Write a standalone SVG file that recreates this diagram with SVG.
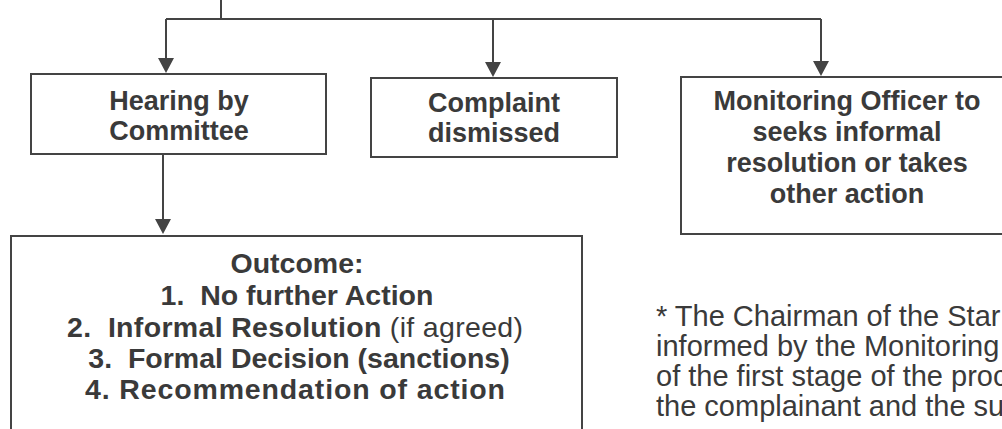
<svg xmlns="http://www.w3.org/2000/svg" width="1002" height="429" viewBox="0 0 1002 429">
<style>
.box{fill:#fff;stroke:#444;stroke-width:2}
.ln{fill:none;stroke:#444;stroke-width:2}
.ah{fill:#444}
.b{font-family:"Liberation Sans",Arial,sans-serif;font-weight:bold;font-size:27px;fill:#3a3a3a;text-anchor:middle}
.o{font-family:"Liberation Sans",Arial,sans-serif;font-weight:bold;font-size:28.5px;fill:#3a3a3a;text-anchor:middle}
.r{font-weight:normal}
.f{font-family:"Liberation Sans",Arial,sans-serif;font-size:29px;fill:#3a3a3a}
</style>
<rect width="1002" height="429" fill="#fff"/>
<g id="connectors">
<path class="ln" d="M221,0 V19 M166,19 H821"/>
<path class="ln" d="M166,19 V58"/>
<path class="ah" d="M158,58 H174 L166,73 Z"/>
<path class="ln" d="M493,19 V62"/>
<path class="ah" d="M485,62 H501 L493,77 Z"/>
<path class="ln" d="M821,19 V61"/>
<path class="ah" d="M813,61 H829 L821,76 Z"/>
<path class="ln" d="M163,154 V219"/>
<path class="ah" d="M155,219 H171 L163,234 Z"/>
</g>
<g id="hearing">
<rect class="box" x="31" y="74" width="295" height="80"/>
<text class="b" x="179" y="110">Hearing by</text>
<text class="b" x="179" y="140">Committee</text>
</g>
<g id="dismissed">
<rect class="box" x="371" y="78" width="246" height="79"/>
<text class="b" x="494" y="112">Complaint</text>
<text class="b" x="494" y="142">dismissed</text>
</g>
<g id="monitoring">
<rect class="box" x="681" y="77" width="340" height="157"/>
<text class="b" x="847" y="110">Monitoring Officer to</text>
<text class="b" x="847" y="141">seeks informal</text>
<text class="b" x="847" y="172">resolution or takes</text>
<text class="b" x="847" y="203">other action</text>
</g>
<g id="outcome">
<rect class="box" x="11" y="236" width="571" height="210"/>
<text class="o" x="297" y="273">Outcome:</text>
<text class="o" x="297" y="305" xml:space="preserve">1.  No further Action</text>
<text class="o" x="295" y="337" textLength="456" lengthAdjust="spacing" xml:space="preserve">2.  Informal Resolution <tspan class="r">(if agreed)</tspan></text>
<text class="o" x="299" y="368" xml:space="preserve">3.  Formal Decision (sanctions)</text>
<text class="o" x="295" y="399" textLength="420" lengthAdjust="spacing">4. Recommendation of action</text>
</g>
<g id="note">
<text class="f" x="656" y="326">* The Chairman of the Star</text>
<text class="f" x="656" y="356">informed by the Monitoring</text>
<text class="f" x="656" y="386">of the first stage of the proc</text>
<text class="f" x="656" y="416">the complainant and the su</text>
</g>
</svg>
